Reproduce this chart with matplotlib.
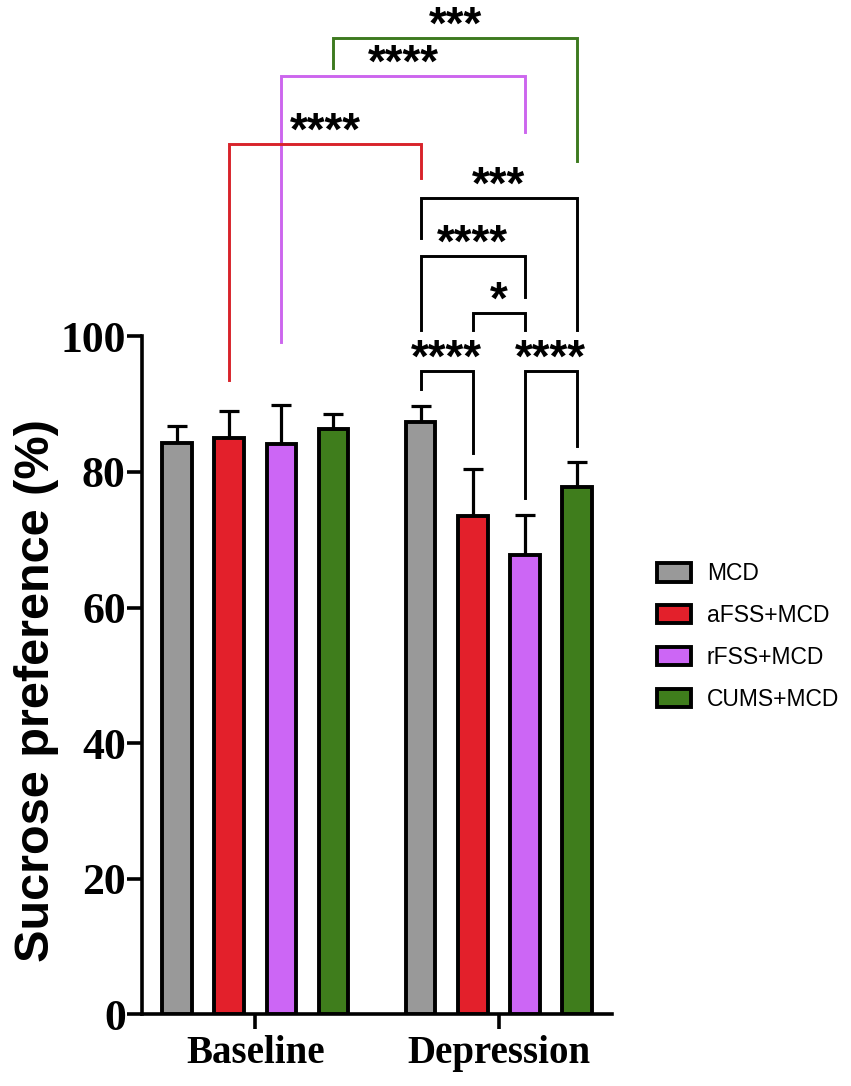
import matplotlib.pyplot as plt
from matplotlib.patches import Patch

groups = ['Baseline', 'Depression']
labels = ['MCD', 'aFSS+MCD', 'rFSS+MCD', 'CUMS+MCD']
colors = ['#999999', '#E3202B', '#CC66F5', '#3F7D1C']
baseline_mean = [84.3, 85.0, 84.1, 86.4]
baseline_sem = [2.5, 4.0, 5.8, 2.2]
depression_mean = [87.4, 73.5, 67.7, 77.8]
depression_sem = [2.3, 6.9, 6.0, 3.6]

# comparisons: (group, bar), (group, bar), bracket y, leg ends, stars, colour
comparisons = [
    ((0, 3), (1, 3), 143.95, 139.6, 125.85, '***', '#3D7A1F'),
    ((0, 2), (1, 2), 138.4, 99.2, 130.2, '****', '#CC66EE'),
    ((0, 1), (1, 0), 128.3, 93.6, 123.3, '****', '#D8232A'),
    ((1, 0), (1, 3), 120.35, 114.45, 101.0, '***', 'black'),
    ((1, 0), (1, 2), 111.8, 101.0, 105.8, '****', 'black'),
    ((1, 1), (1, 2), 103.5, 101.0, 101.0, '*', 'black'),
    ((1, 0), (1, 1), 94.9, 92.2, 82.8, '****', 'black'),
    ((1, 2), (1, 3), 94.9, 76.1, 83.8, '****', 'black'),
]

step = 0.214
width = 0.122
lw = 2.8

fig = plt.figure(figsize=(8.51, 10.86), dpi=100)
ax = fig.add_axes([0.1665, 0.066, 0.5523, 0.9365])


def xpos(g, i):
    return g + (i - 1.5) * step


for g, (means, sems) in enumerate([(baseline_mean, baseline_sem),
                                    (depression_mean, depression_sem)]):
    for i in range(4):
        x = xpos(g, i)
        ax.errorbar(x, means[i], yerr=[[0], [sems[i]]], fmt='none',
                    ecolor='black', elinewidth=2.3, capsize=7.5, capthick=2.3,
                    zorder=2)
        ax.bar(x, means[i], width=width, color=colors[i],
               edgecolor='black', linewidth=lw, zorder=3)

for a, b, y, e1, e2, stars, c in comparisons:
    x1 = xpos(*a)
    x2 = xpos(*b)
    ax.plot([x1, x1, x2, x2], [e1, y, y, e2], color=c, lw=2.1,
            solid_joinstyle='miter', clip_on=False, zorder=4)
    ax.text((x1 + x2) / 2, y - 0.1, stars, ha='center',
            va='baseline', fontsize=33, fontweight='bold',
            family='Liberation Sans', zorder=5)

ax.set_xlim(-0.467, 1.464)
ax.set_ylim(0, 150)
ax.spines['top'].set_visible(False)
ax.spines['right'].set_visible(False)
ax.spines['left'].set_bounds(0, 100)
for s in ['left', 'bottom']:
    ax.spines[s].set_linewidth(2.6)

ax.set_yticks([0, 20, 40, 60, 80, 100])
ax.set_xticks([0, 1])
ax.set_xticklabels(groups)
ax.tick_params(axis='y', length=11, width=2.6, pad=0.5)
ax.tick_params(axis='x', length=11, width=2.6, pad=4)
for t in ax.get_yticklabels():
    t.set_fontfamily('Liberation Serif')
    t.set_fontweight('bold')
    t.set_fontsize(31.5)
for t in ax.get_xticklabels():
    t.set_fontfamily('Liberation Serif')
    t.set_fontweight('bold')
    t.set_fontsize(28)

fig.text(37 / 851, 1 - 691 / 1086, 'Sucrose preference (%)', rotation=90,
         ha='center', va='center', fontsize=35, fontweight='bold',
         family='Liberation Sans')

handles = [Patch(facecolor=colors[i], edgecolor='black', linewidth=lw,
                 label=labels[i]) for i in range(4)]
fig.legend(handles=handles, loc='upper left',
           bbox_to_anchor=(656.7 / 851, 1 - 562.5 / 1086),
           frameon=False, borderpad=0, borderaxespad=0,
           handlelength=1.48, handleheight=0.84, handletextpad=0.7,
           labelspacing=0.82,
           prop={'family': 'Liberation Sans', 'size': 16.5})

fig.savefig('out.png', dpi=100)
